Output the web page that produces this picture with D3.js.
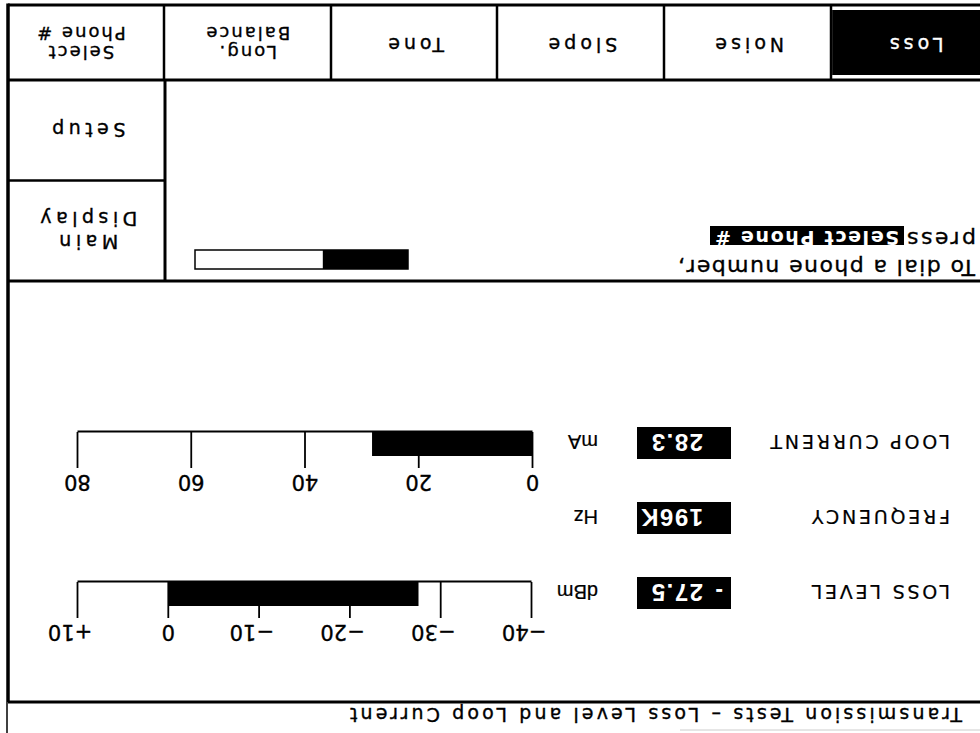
<!DOCTYPE html>
<html><head><meta charset="utf-8">
<script src="https://cdn.jsdelivr.net/npm/d3@7"></script>
<style>html,body{margin:0;padding:0;background:#fff;overflow:hidden;} svg{display:block;}</style>
</head><body>
<svg id="c" width="980" height="733"></svg>
<script>
// ---- data ----
const tabs = ["Loss","Noise","Slope","Tone","Long.|Balance","Select|Phone #"];
const activeTab = "Loss";
const sideButtons = ["Main|Display","Setup"];
const messageLines = ["To dial a phone number,","press"];
const messageKey = "Select Phone #";
const progressValue = [0.4];
const readoutLabels = ["LOSS LEVEL","FREQUENCY","LOOP CURRENT"];
const readoutValues = ["- 27.5","196K","28.3"];
const readoutUnits = ["dBm","Hz","mA"];
const lossLevel = [-27.5];
const lossTicks = [-40,-30,-20,-10,0,10];
const lossTickLabels = ["\u221240","\u221230","\u221220","\u221210","0","+10"];
const loopCurrent = [28.3];
const loopTicks = [0,20,40,60,80];
const loopTickLabels = ["0","20","40","60","80"];
const caption = "Transmission Tests \u2013 Loss Level and Loop Current";

// ---- drawing ----
const W = 980, H = 733;
const svg = d3.select("#c");
svg.append("rect").attr("width",W).attr("height",H).attr("fill","#fff");
// the photographed screen is upside down: draw upright then rotate 180
const g = svg.append("g").attr("transform",`rotate(180 ${W/2} ${H/2})`);
const FONT = "DejaVu Sans, Verdana, sans-serif";
const LIB = "Liberation Sans, Arial, sans-serif";
const INK = 0.35; // slight stroke to mimic the heavy scanned print

// frame geometry (upright frame)
const frameR = 972, topY = 728, tabBottom = 653, headBottom = 452, panelBottom = 31, sideLeft = 815;

// Tabs
const tabX = d3.scaleBand().domain(tabs).range([-18, 983]);
g.append("rect").attr("x", -30).attr("y", tabBottom+5)
  .attr("width", tabX(tabs[1]) + 30 - 1).attr("height", topY-tabBottom-10).attr("fill","#000");
tabs.forEach(t => {
  const lines = t.split("|");
  const cx = tabX(t) + tabX.bandwidth()/2;
  const col = t===activeTab ? "#fff" : "#000";
  lines.forEach((l,i) => {
    g.append("text").attr("x", cx).attr("text-anchor","middle")
      .attr("font-family", FONT).attr("font-size", lines.length>1 ? 18 : 19)
      .attr("letter-spacing", lines.length>1 ? 2 : 4)
      .attr("fill", col).attr("stroke", col).attr("stroke-width", INK)
      .attr("y", lines.length>1 ? 687 + i*19 : 695).text(l);
  });
});
// tab dividers
tabs.slice(1).forEach(t => {
  const x = Math.round(tabX(t));
  g.append("line").attr("x1",x).attr("x2",x).attr("y1",tabBottom).attr("y2",topY)
    .attr("stroke","#000").attr("stroke-width",2.5);
});

// Side buttons
const sideY = d3.scaleBand().domain(sideButtons).range([headBottom, tabBottom]);
sideButtons.forEach(s => {
  const lines = s.split("|");
  const cy = sideY(s) + sideY.bandwidth()/2;
  const cx = (sideLeft + frameR)/2;
  lines.forEach((l,i)=> g.append("text").attr("text-anchor","middle")
    .attr("font-family", FONT).attr("font-size", 19).attr("letter-spacing", 4.5)
    .attr("fill","#000").attr("stroke","#000").attr("stroke-width",INK)
    .attr("x", cx).attr("y", cy + 7 - (lines.length-1)*11.5 + i*23).text(l));
});
g.append("line").attr("x1",sideLeft).attr("x2",frameR).attr("y1",sideY(sideButtons[1])).attr("y2",sideY(sideButtons[1]))
  .attr("stroke","#000").attr("stroke-width",2.5);
g.append("line").attr("x1",sideLeft).attr("x2",sideLeft).attr("y1",headBottom).attr("y2",tabBottom)
  .attr("stroke","#000").attr("stroke-width",3);

// Message
g.append("text").attr("x",5).attr("y",473).attr("font-family",FONT).attr("font-size",22)
  .attr("stroke","#000").attr("stroke-width",INK)
  .attr("textLength",297).attr("lengthAdjust","spacing").text(messageLines[0]);
g.append("text").attr("x",4).attr("y",501).attr("font-family",FONT).attr("font-size",22)
  .attr("stroke","#000").attr("stroke-width",INK)
  .attr("textLength",69).attr("lengthAdjust","spacing").text(messageLines[1]);
g.append("rect").attr("x",76).attr("y",488).attr("width",194).attr("height",19).attr("fill","#000");
g.append("text").attr("x",81).attr("y",502).attr("font-family",FONT).attr("font-size",19)
  .attr("font-weight","bold").attr("fill","#fff")
  .attr("textLength",184).attr("lengthAdjust","spacing").text(messageKey);

// Progress bar
const pScale = d3.scaleLinear().domain([0,1]).range([0,213]);
g.append("rect").attr("x",572).attr("y",464).attr("width",pScale(1)).attr("height",19)
  .attr("fill","#fff").attr("stroke","#000").attr("stroke-width",1.5);
g.selectAll(".prog").data(progressValue).join("rect").attr("class","prog")
  .attr("x",572).attr("y",464).attr("width",d=>pScale(d)).attr("height",19).attr("fill","#000");

// Readout rows
const rowY = d3.scalePoint().domain(readoutLabels).range([141, 291]);
readoutLabels.forEach((lab,i) => {
  const y = rowY(lab);
  g.append("text").attr("x",30).attr("y",y+7).attr("font-family",FONT).attr("font-size",19)
    .attr("stroke","#000").attr("stroke-width",INK*0.6)
    .attr("letter-spacing",2.8).text(lab);
  g.append("rect").attr("x",249).attr("y",y-17).attr("width",94).attr("height",32).attr("fill","#000");
  const v = readoutValues[i];
  const m = v.match(/^(-\s*)(.*)$/);
  const num = m ? m[2] : v;
  if (m) {
    g.append("text").attr("x",257).attr("y",y+8).attr("font-family",LIB)
      .attr("font-size",23).attr("font-weight","bold").attr("fill","#fff").text("-");
  }
  g.append("text").attr("x",277).attr("y",y+8).attr("font-family",LIB)
    .attr("font-size",24).attr("font-weight","bold").attr("letter-spacing",1.5).attr("fill","#fff").text(num);
  g.append("text").attr("x",382).attr("y",y+7).attr("font-family",LIB).attr("font-size",20)
    .attr("stroke","#000").attr("stroke-width",INK*0.6)
    .text(readoutUnits[i]);
});

// Bar meters
function meter(domain, range, axisY, ticks, labels, values, shiftSigned) {
  const x = d3.scaleLinear().domain(domain).range(range);
  const axis = d3.axisTop(x).tickValues(ticks).tickFormat((d,i)=>labels[i])
    .tickSize(36).tickSizeOuter(0).tickPadding(7);
  const ag = g.append("g").attr("transform",`translate(0,${axisY})`).call(axis);
  ag.select(".domain").attr("stroke","#000").attr("stroke-width",1.8);
  ag.selectAll(".tick line").attr("stroke","#000").attr("stroke-width",1.8);
  ag.selectAll(".tick text").attr("font-family",FONT).attr("font-size",21).attr("fill","#000")
    .attr("stroke","#000").attr("stroke-width",INK)
    .attr("dx", d => (shiftSigned && d!==0) ? "0.35em" : 0);
  g.selectAll(null).data(values).join("rect")
    .attr("x", d => Math.min(x(0), x(d)))
    .attr("width", d => Math.abs(x(d)-x(0)))
    .attr("y", axisY-24).attr("height", 24).attr("fill","#000");
}
meter([-40,10],[448,902],151,lossTicks,lossTickLabels,lossLevel,true);
meter([0,80],[447,902],301,loopTicks,loopTickLabels,loopCurrent,false);

// Frame lines
const lines = [
  [0,topY,frameR,topY,3],
  [0,tabBottom,frameR,tabBottom,3],
  [0,headBottom,frameR,headBottom,3],
  [0,panelBottom,frameR,panelBottom,3],
  [frameR,panelBottom,frameR,topY+1.5,3.5],
  [frameR+1,0,frameR+1,panelBottom,1.5]
];
lines.forEach(l => g.append("line").attr("x1",l[0]).attr("y1",l[1]).attr("x2",l[2]).attr("y2",l[3])
  .attr("stroke","#000").attr("stroke-width",l[4]));
g.append("line").attr("x1",0).attr("x2",300).attr("y1",3).attr("y2",3).attr("stroke","#ccc").attr("stroke-width",1);

// Caption
g.append("text").attr("x",18).attr("y",25).attr("font-family",FONT).attr("font-size",19)
  .attr("stroke","#000").attr("stroke-width",INK)
  .attr("textLength",612).attr("lengthAdjust","spacing").text(caption);
</script>
</body></html>
